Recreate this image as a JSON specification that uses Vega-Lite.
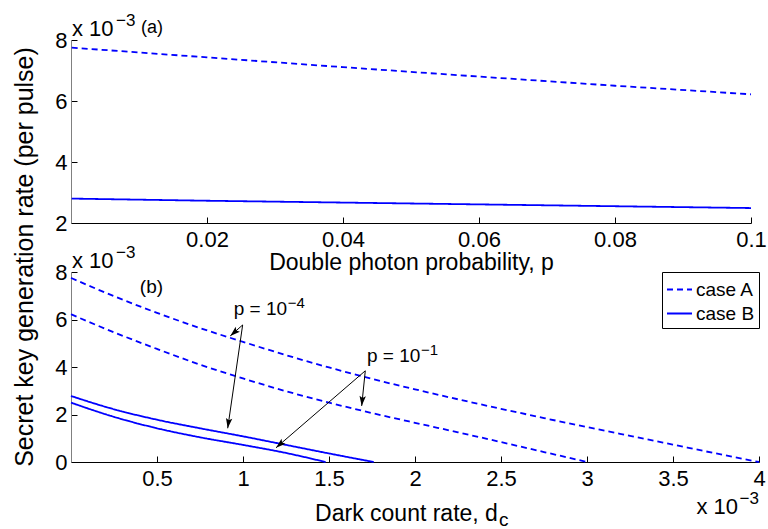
{
  "$schema": "https://vega.github.io/schema/vega-lite/v6.json",
  "background": "white",
  "padding": {"left": 12, "top": 12, "right": 5, "bottom": 2},
  "config": {
    "font": "Liberation Sans",
    "view": {"stroke": null},
    "axis": {
      "grid": false,
      "labelFont": "Liberation Sans",
      "labelFontSize": 22,
      "labelColor": "black",
      "labelFlush": false,
      "titleFont": "Liberation Sans",
      "titleFontSize": 22,
      "titleFontWeight": "normal",
      "titleColor": "black",
      "tickSize": -6,
      "tickColor": "black",
      "domainColor": "black",
      "labelPadding": 12
    },
    "text": {"font": "Liberation Sans", "color": "black"},
    "legend": {"labelFont": "Liberation Sans"}
  },
  "title": {
    "text": "Secret key generation rate (per pulse)",
    "orient": "left",
    "anchor": "middle",
    "fontSize": 25,
    "fontWeight": "normal",
    "font": "Liberation Sans",
    "color": "black",
    "offset": 17,
    "dx": 14
  },
  "spacing": 49,
  "bounds": "flush",
  "resolve": {"legend": {"strokeDash": "independent"}, "scale": {"strokeDash": "independent"}},
  "vconcat": [
    {
      "width": 680,
      "height": 183,
      "layer": [
        {
          "data": {"values": [
            {"p": 0.0001, "rate": 7.75, "case": "case A"},
            {"p": 0.02, "rate": 7.43, "case": "case A"},
            {"p": 0.04, "rate": 7.11, "case": "case A"},
            {"p": 0.06, "rate": 6.8, "case": "case A"},
            {"p": 0.08, "rate": 6.5, "case": "case A"},
            {"p": 0.1, "rate": 6.22, "case": "case A"},
            {"p": 0.0001, "rate": 2.8, "case": "case B"},
            {"p": 0.02, "rate": 2.73, "case": "case B"},
            {"p": 0.04, "rate": 2.67, "case": "case B"},
            {"p": 0.06, "rate": 2.61, "case": "case B"},
            {"p": 0.08, "rate": 2.55, "case": "case B"},
            {"p": 0.1, "rate": 2.49, "case": "case B"}
          ]},
          "mark": {"type": "line", "color": "#0000ff", "strokeWidth": 1.8},
          "encoding": {
            "x": {
              "field": "p", "type": "quantitative",
              "scale": {"domain": [0, 0.1], "nice": false, "zero": false},
              "axis": {
                "values": [0.02, 0.04, 0.06, 0.08, 0.1],
                "format": "~g",
                "title": "Double photon probability, p",
                "titleFontSize": 23,
                "titleY": 46,
                "titleBaseline": "alphabetic",
                "labelPadding": 12
              }
            },
            "y": {
              "field": "rate", "type": "quantitative",
              "scale": {"domain": [2, 8], "nice": false, "zero": false},
              "axis": {
                "values": [2, 4, 6, 8],
                "title": null,
                "domainColor": "#808080",
                "labelPadding": 10
              }
            },
            "strokeDash": {
              "field": "case", "type": "nominal",
              "scale": {"domain": ["case A", "case B"], "range": [[6, 4], [1, 0]]},
              "legend": null
            }
          }
        },
        {
          "data": {"values": [{"p": 0, "rate": 8, "label": "x 10"}]},
          "mark": {"type": "text", "align": "left", "baseline": "alphabetic", "fontSize": 22, "dx": 1, "dy": -4},
          "encoding": {
            "x": {"field": "p", "type": "quantitative"},
            "y": {"field": "rate", "type": "quantitative"},
            "text": {"field": "label"}
          }
        },
        {
          "data": {"values": [{"p": 0, "rate": 8, "label": "−3"}]},
          "mark": {"type": "text", "align": "left", "baseline": "alphabetic", "fontSize": 17, "dx": 45, "dy": -14},
          "encoding": {
            "x": {"field": "p", "type": "quantitative"},
            "y": {"field": "rate", "type": "quantitative"},
            "text": {"field": "label"}
          }
        },
        {
          "data": {"values": [{"p": 0, "rate": 8, "label": "(a)"}]},
          "mark": {"type": "text", "align": "left", "baseline": "alphabetic", "fontSize": 18, "dx": 70, "dy": -7},
          "encoding": {
            "x": {"field": "p", "type": "quantitative"},
            "y": {"field": "rate", "type": "quantitative"},
            "text": {"field": "label"}
          }
        }
      ]
    },
    {
      "width": 688,
      "height": 190,
      "layer": [
        {
          "data": {"values": [
            {"dc": 0, "rate": 7.75, "case": "case A", "pr": "1e-4"},
            {"dc": 0.25, "rate": 6.98, "case": "case A", "pr": "1e-4"},
            {"dc": 0.5, "rate": 6.28, "case": "case A", "pr": "1e-4"},
            {"dc": 0.75, "rate": 5.64, "case": "case A", "pr": "1e-4"},
            {"dc": 1.0, "rate": 5.06, "case": "case A", "pr": "1e-4"},
            {"dc": 1.25, "rate": 4.5, "case": "case A", "pr": "1e-4"},
            {"dc": 1.5, "rate": 3.98, "case": "case A", "pr": "1e-4"},
            {"dc": 1.75, "rate": 3.5, "case": "case A", "pr": "1e-4"},
            {"dc": 2.0, "rate": 3.06, "case": "case A", "pr": "1e-4"},
            {"dc": 2.25, "rate": 2.64, "case": "case A", "pr": "1e-4"},
            {"dc": 2.5, "rate": 2.24, "case": "case A", "pr": "1e-4"},
            {"dc": 2.75, "rate": 1.85, "case": "case A", "pr": "1e-4"},
            {"dc": 3.0, "rate": 1.47, "case": "case A", "pr": "1e-4"},
            {"dc": 3.25, "rate": 1.1, "case": "case A", "pr": "1e-4"},
            {"dc": 3.5, "rate": 0.73, "case": "case A", "pr": "1e-4"},
            {"dc": 3.75, "rate": 0.36, "case": "case A", "pr": "1e-4"},
            {"dc": 4.0, "rate": 0, "case": "case A", "pr": "1e-4"},
            {"dc": 0, "rate": 6.22, "case": "case A", "pr": "1e-1"},
            {"dc": 0.25, "rate": 5.46, "case": "case A", "pr": "1e-1"},
            {"dc": 0.5, "rate": 4.76, "case": "case A", "pr": "1e-1"},
            {"dc": 0.75, "rate": 4.1, "case": "case A", "pr": "1e-1"},
            {"dc": 1.0, "rate": 3.52, "case": "case A", "pr": "1e-1"},
            {"dc": 1.25, "rate": 2.98, "case": "case A", "pr": "1e-1"},
            {"dc": 1.5, "rate": 2.5, "case": "case A", "pr": "1e-1"},
            {"dc": 1.75, "rate": 2.06, "case": "case A", "pr": "1e-1"},
            {"dc": 2.0, "rate": 1.65, "case": "case A", "pr": "1e-1"},
            {"dc": 2.25, "rate": 1.25, "case": "case A", "pr": "1e-1"},
            {"dc": 2.5, "rate": 0.84, "case": "case A", "pr": "1e-1"},
            {"dc": 2.75, "rate": 0.42, "case": "case A", "pr": "1e-1"},
            {"dc": 3.0, "rate": 0, "case": "case A", "pr": "1e-1"},
            {"dc": 0, "rate": 2.78, "case": "case B", "pr": "1e-4"},
            {"dc": 0.25, "rate": 2.22, "case": "case B", "pr": "1e-4"},
            {"dc": 0.5, "rate": 1.78, "case": "case B", "pr": "1e-4"},
            {"dc": 0.75, "rate": 1.42, "case": "case B", "pr": "1e-4"},
            {"dc": 1.0, "rate": 1.08, "case": "case B", "pr": "1e-4"},
            {"dc": 1.25, "rate": 0.72, "case": "case B", "pr": "1e-4"},
            {"dc": 1.5, "rate": 0.36, "case": "case B", "pr": "1e-4"},
            {"dc": 1.76, "rate": 0, "case": "case B", "pr": "1e-4"},
            {"dc": 0, "rate": 2.5, "case": "case B", "pr": "1e-1"},
            {"dc": 0.25, "rate": 1.9, "case": "case B", "pr": "1e-1"},
            {"dc": 0.5, "rate": 1.42, "case": "case B", "pr": "1e-1"},
            {"dc": 0.75, "rate": 1.04, "case": "case B", "pr": "1e-1"},
            {"dc": 1.0, "rate": 0.72, "case": "case B", "pr": "1e-1"},
            {"dc": 1.25, "rate": 0.38, "case": "case B", "pr": "1e-1"},
            {"dc": 1.48, "rate": 0, "case": "case B", "pr": "1e-1"}
          ]},
          "mark": {"type": "line", "color": "#0000ff", "strokeWidth": 1.8, "interpolate": "monotone"},
          "encoding": {
            "x": {
              "field": "dc", "type": "quantitative",
              "scale": {"domain": [0, 4], "nice": false, "zero": false},
              "axis": {
                "values": [0.5, 1, 1.5, 2, 2.5, 3, 3.5, 4],
                "format": "~g",
                "title": "Dark count rate, d",
                "titleFontSize": 23,
                "titleX": 335,
                "titleY": 58,
                "titleBaseline": "alphabetic",
                "labelPadding": 12
              }
            },
            "y": {
              "field": "rate", "type": "quantitative",
              "scale": {"domain": [0, 8], "nice": false, "zero": false},
              "axis": {
                "values": [0, 2, 4, 6, 8],
                "title": null,
                "domainColor": "#808080",
                "labelPadding": 10
              }
            },
            "detail": {"field": "pr", "type": "nominal"},
            "strokeDash": {
              "field": "case", "type": "nominal",
              "scale": {"domain": ["case A", "case B"], "range": [[6, 4], [1, 0]]},
              "legend": {
                "title": null,
                "orient": "none",
                "legendX": 591,
                "legendY": 0,
                "symbolType": "stroke",
                "symbolSize": 625,
                "symbolStrokeColor": "#0000ff",
                "symbolStrokeWidth": 1.8,
                "labelFontSize": 19,
                "labelColor": "black",
                "labelOffset": 3,
                "rowPadding": 0,
                "padding": 4,
                "strokeColor": "black",
                "fillColor": "white"
              }
            }
          }
        },
        {
          "data": {"values": [
            {"dcFrom": 0.998, "rateFrom": 5.77, "dcTo": 0.926, "rateTo": 5.31},
            {"dcFrom": 0.998, "rateFrom": 5.77, "dcTo": 0.911, "rateTo": 1.42},
            {"dcFrom": 1.711, "rateFrom": 3.84, "dcTo": 1.69, "rateTo": 2.36},
            {"dcFrom": 1.711, "rateFrom": 3.84, "dcTo": 1.192, "rateTo": 0.6}
          ]},
          "layer": [
            {
              "mark": {"type": "rule", "color": "black", "strokeWidth": 1},
              "encoding": {
                "x": {"field": "dcFrom", "type": "quantitative"},
                "y": {"field": "rateFrom", "type": "quantitative"},
                "x2": {"field": "dcTo"},
                "y2": {"field": "rateTo"}
              }
            },
            {
              "transform": [
                {"calculate": "atan2((datum.dcTo - datum.dcFrom) * 172, (datum.rateTo - datum.rateFrom) * 23.75) * 180 / PI", "as": "heading"}
              ],
              "mark": {"type": "point", "shape": "M0,0L-0.32,1L0,0.8L0.32,1Z", "filled": true, "color": "black", "size": 400, "opacity": 1},
              "encoding": {
                "x": {"field": "dcTo", "type": "quantitative"},
                "y": {"field": "rateTo", "type": "quantitative"},
                "angle": {"field": "heading", "type": "quantitative", "scale": null}
              }
            }
          ]
        },
        {
          "data": {"values": [
            {"dc": 0.946, "rate": 6.19, "label": "p = 10"},
            {"dc": 1.721, "rate": 4.22, "label": "p = 10"},
            {"dc": 0.4, "rate": 7.1, "label": "(b)"}
          ]},
          "mark": {"type": "text", "align": "left", "baseline": "alphabetic", "fontSize": 19},
          "encoding": {
            "x": {"field": "dc", "type": "quantitative"},
            "y": {"field": "rate", "type": "quantitative"},
            "text": {"field": "label"}
          }
        },
        {
          "data": {"values": [
            {"dc": 0.946, "rate": 6.19, "label": "−4"},
            {"dc": 1.721, "rate": 4.22, "label": "−1"}
          ]},
          "mark": {"type": "text", "align": "left", "baseline": "alphabetic", "fontSize": 15, "dx": 54, "dy": -7},
          "encoding": {
            "x": {"field": "dc", "type": "quantitative"},
            "y": {"field": "rate", "type": "quantitative"},
            "text": {"field": "label"}
          }
        },
        {
          "data": {"values": [{"dc": 0, "rate": 8, "label": "x 10"}]},
          "mark": {"type": "text", "align": "left", "baseline": "alphabetic", "fontSize": 22, "dx": 1, "dy": -4},
          "encoding": {
            "x": {"field": "dc", "type": "quantitative"},
            "y": {"field": "rate", "type": "quantitative"},
            "text": {"field": "label"}
          }
        },
        {
          "data": {"values": [{"dc": 0, "rate": 8, "label": "−3"}]},
          "mark": {"type": "text", "align": "left", "baseline": "alphabetic", "fontSize": 17, "dx": 45, "dy": -14},
          "encoding": {
            "x": {"field": "dc", "type": "quantitative"},
            "y": {"field": "rate", "type": "quantitative"},
            "text": {"field": "label"}
          }
        },
        {
          "data": {"values": [{"dc": 4, "rate": 0, "label": "x 10"}]},
          "mark": {"type": "text", "align": "right", "baseline": "alphabetic", "fontSize": 22, "dx": -21, "dy": 52},
          "encoding": {
            "x": {"field": "dc", "type": "quantitative"},
            "y": {"field": "rate", "type": "quantitative"},
            "text": {"field": "label"}
          }
        },
        {
          "data": {"values": [{"dc": 4, "rate": 0, "label": "−3"}]},
          "mark": {"type": "text", "align": "right", "baseline": "alphabetic", "fontSize": 17, "dx": 0, "dy": 42},
          "encoding": {
            "x": {"field": "dc", "type": "quantitative"},
            "y": {"field": "rate", "type": "quantitative"},
            "text": {"field": "label"}
          }
        },
        {
          "data": {"values": [{"dc": 2.488, "rate": 0, "label": "c"}]},
          "mark": {"type": "text", "align": "left", "baseline": "alphabetic", "fontSize": 19, "dy": 64},
          "encoding": {
            "x": {"field": "dc", "type": "quantitative"},
            "y": {"field": "rate", "type": "quantitative"},
            "text": {"field": "label"}
          }
        }
      ]
    }
  ]
}
